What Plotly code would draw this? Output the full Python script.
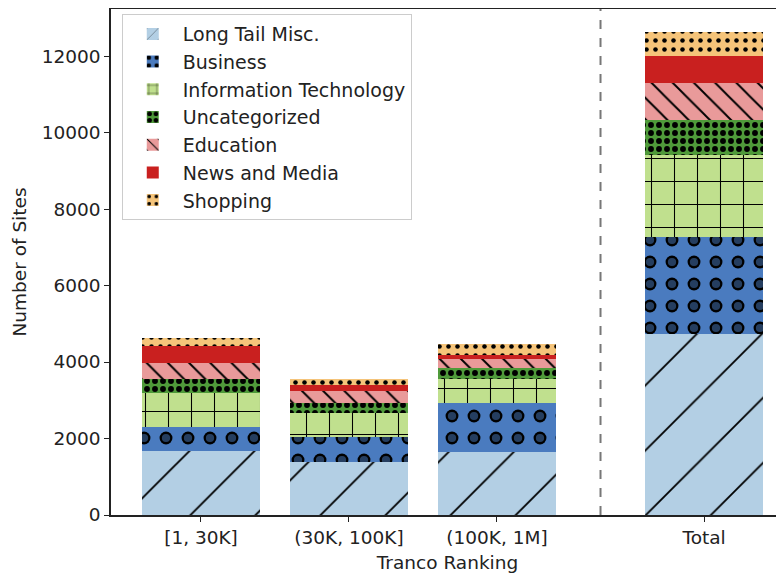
import plotly.graph_objects as go

groups = ["[1, 30K]", "(30K, 100K]", "(100K, 1M]"]
categories = ["Long Tail Misc.", "Business", "Information Technology",
              "Uncategorized", "Education", "News and Media", "Shopping"]
long_tail = [1680, 1395, 1655]
business = [630, 635, 1265]
info_tech = [890, 645, 630]
uncategorized = [350, 245, 305]
education = [420, 330, 220]
news_media = [450, 150, 115]
shopping = [200, 150, 280]
series = [long_tail, business, info_tech, uncategorized, education, news_media, shopping]

x_labels = groups + ["Total"]
x_pos = [0, 1, 2, 3.4]
divider_x = 2.7
y_ticks = [0, 2000, 4000, 6000, 8000, 10000, 12000]

colors = ["#b3cfe4", "#4a7bbf", "#c0e08e", "#4f9a3a", "#e99a9a", "#c9201f", "#f5c47a"]
patterns = [
    dict(shape="/", size=46, solidity=0.04),
    dict(shape=".", size=22, solidity=0.27),
    dict(shape="+", size=23, solidity=0.09),
    dict(shape=".", size=8, solidity=0.42),
    dict(shape="\\", size=15, solidity=0.13),
    dict(shape=""),
    dict(shape=".", size=9, solidity=0.2),
]

fig = go.Figure()
for name, vals, col, pat in zip(categories, series, colors, patterns):
    y = vals + [sum(vals)]
    p = dict(pat)
    if p.get("shape"):
        p["fgcolor"] = "#000000"
        p["bgcolor"] = col
        p["fillmode"] = "replace"
    fig.add_trace(go.Bar(
        x=x_pos, y=y, name=name, width=0.8,
        marker=dict(color=col, line=dict(width=0), pattern=p),
    ))

# ring effect for Business: inner blue dots drawn on overlay axes
biz_base = long_tail + [sum(long_tail)]
biz_vals = business + [sum(business)]
fig.add_trace(go.Bar(
    x=x_pos, y=biz_vals, base=biz_base, width=0.8, showlegend=False,
    xaxis="x2", yaxis="y2", hoverinfo="skip",
    marker=dict(color="rgba(0,0,0,0)", line=dict(width=0),
                pattern=dict(shape=".", size=22, solidity=0.11,
                             fgcolor=colors[1], bgcolor="rgba(0,0,0,0)",
                             fillmode="overlay")),
))

fig.add_shape(type="line", xref="x", yref="paper", x0=divider_x, x1=divider_x,
              y0=0, y1=1, line=dict(color="#777777", width=2, dash="dash"))

font = "DejaVu Sans"
x_range = [-0.608, 3.94]
y_range = [0, 13230]
fig.update_layout(
    barmode="stack",
    width=776, height=566,
    margin=dict(l=103, r=0, t=1, b=59),
    plot_bgcolor="white", paper_bgcolor="white",
    font=dict(family=font, size=18.5, color="#222222"),
    bargap=0,
    legend=dict(x=0.016, y=0.99, xanchor="left", yanchor="top",
                bordercolor="#cccccc", borderwidth=1, bgcolor="rgba(255,255,255,0.9)",
                font=dict(size=19), traceorder="normal", tracegroupgap=0,
                itemwidth=50),
    xaxis=dict(range=x_range, tickvals=x_pos, ticktext=x_labels,
               showline=True, linecolor="#222222", linewidth=1.5, mirror=True,
               ticks="outside", ticklen=5, tickcolor="#222222", showgrid=False,
               automargin=False, tickfont=dict(size=18.5),
               title=dict(text="Tranco Ranking", standoff=9, font=dict(size=18.5)),
               zeroline=False),
    yaxis=dict(range=y_range, tickvals=y_ticks, tickformat="d",
               showline=True, linecolor="#222222", linewidth=1.5,
               ticks="outside", ticklen=5, tickcolor="#222222", showgrid=False,
               automargin=False, tickfont=dict(size=18.5),
               title=dict(text="Number of Sites", standoff=10, font=dict(size=18.5)),
               zeroline=False),
    xaxis2=dict(range=x_range, overlaying="x", visible=False, showgrid=False),
    yaxis2=dict(range=y_range, overlaying="y", visible=False, showgrid=False),
)

fig.write_html("out.html")
